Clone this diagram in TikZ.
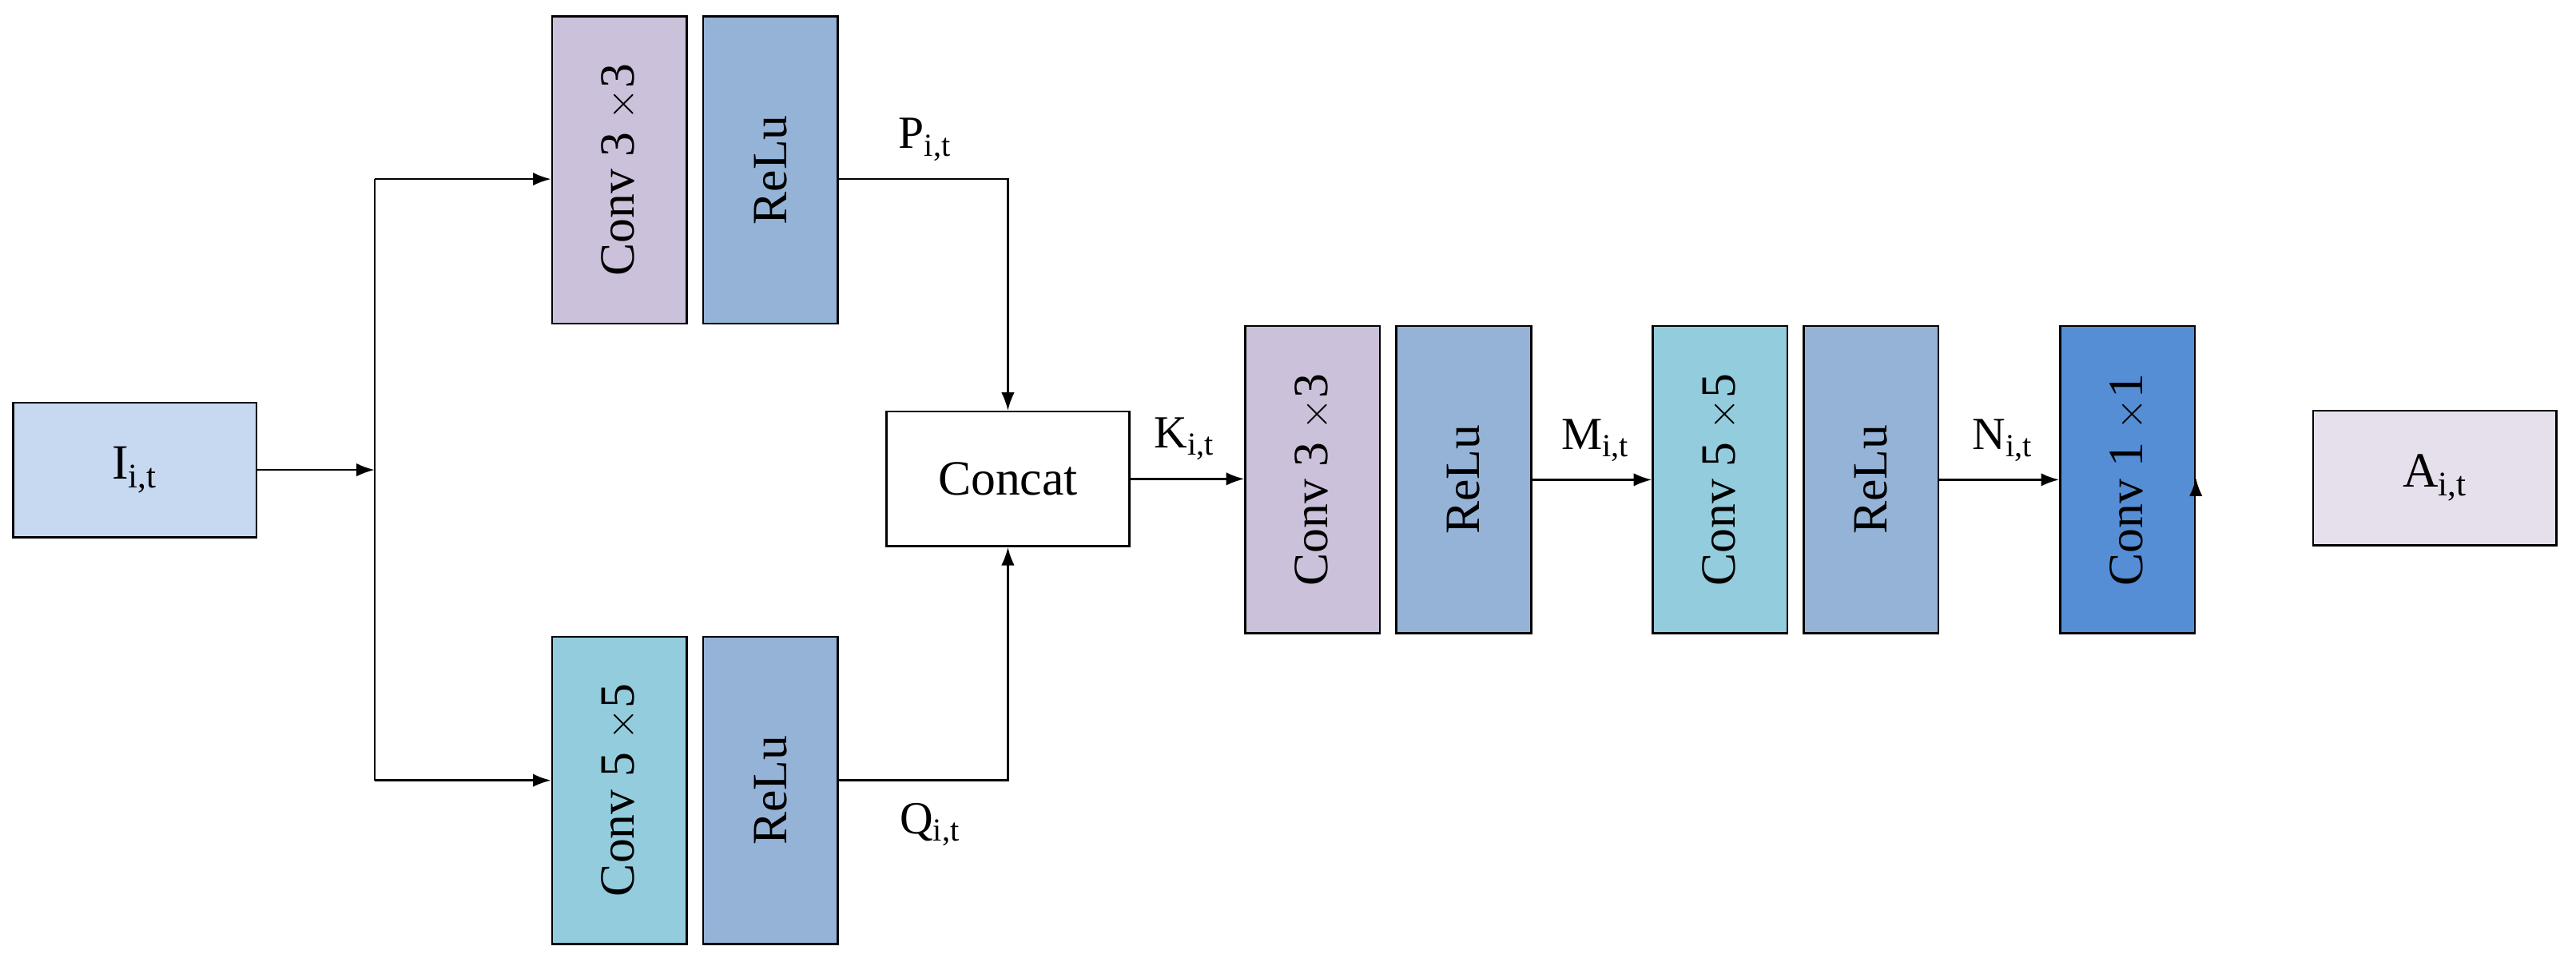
\documentclass[tikz,border=0pt]{standalone}
\usepackage{fontspec}
\setmainfont{Liberation Serif}
\usetikzlibrary{arrows.meta}
\definecolor{cI}{HTML}{C6D9F1}
\definecolor{cP}{HTML}{CCC1DA}
\definecolor{cR}{HTML}{95B3D7}
\definecolor{cC}{HTML}{93CDDD}
\definecolor{cD}{HTML}{558ED5}
\definecolor{cA}{HTML}{E6E0EC}
\begin{document}
\begin{tikzpicture}[x=1pt,y=-1pt,
  box/.style={draw=black,line width=1.2pt,inner sep=0pt,font=\fontsize{30}{36}\selectfont},
  tall/.style={box,minimum width=82pt,minimum height=187pt},
  wide/.style={box,minimum width=148pt,minimum height=82pt},
  arr/.style={-{Latex[length=11pt,width=8pt]},line width=1.2pt},
  lab/.style={font=\fontsize{28}{34}\selectfont,inner sep=0pt}]
\useasboundingbox (0,0) rectangle (1568,590);
\fill[white] (0,0) rectangle (1568,590);
\node[wide,fill=cI] (I) at (82,286) {I\textsubscript{i,t}};
\coordinate (b) at (228,286);
\node[tall,fill=cP] (c1) at (377,103.5) {\rotatebox{90}{Conv 3 $\times$3}};
\node[tall,fill=cR] (r1) at (469,103.5) {\rotatebox{90}{ReLu}};
\node[tall,fill=cC] (c2) at (377,481) {\rotatebox{90}{Conv 5 $\times$5}};
\node[tall,fill=cR] (r2) at (469,481) {\rotatebox{90}{ReLu}};
\node[wide,fill=white] (cat) at (613.5,291.5) {Concat};
\node[tall,fill=cP] (c3) at (799,292) {\rotatebox{90}{Conv 3 $\times$3}};
\node[tall,fill=cR] (r3) at (891,292) {\rotatebox{90}{ReLu}};
\node[tall,fill=cC] (c4) at (1047,292) {\rotatebox{90}{Conv 5 $\times$5}};
\node[tall,fill=cR] (r4) at (1139,292) {\rotatebox{90}{ReLu}};
\node[tall,fill=cD] (c5) at (1295,292) {\rotatebox{90}{Conv 1 $\times$1}};
\node[wide,fill=cA] (A) at (1482,291) {A\textsubscript{i,t}};
\draw[arr] (I.east) -- (b);
\draw[line width=1.2pt] (b) |- (228,109) coordinate (bt);
\draw[line width=1.2pt] (b) |- (228,475) coordinate (bb);
\draw[arr] (bt) -- (c1.west|-bt);
\draw[arr] (bb) -- (c2.west|-bb);
\draw[arr] (r1.east|-bt) -| (cat.north);
\draw[arr] (r2.east|-bb) -| (cat.south);
\draw[arr] (cat.east) -- (c3.west|-cat.east);
\draw[arr] (r3.east|-c4.west) -- (c4.west);
\draw[arr] (r4.east) -- (c5.west);
\draw[arr] (c5.east) -- (A.west-|c5.east) ;
\node[lab] (P) at (563,85) {P\textsubscript{i,t}};
\node[lab] (Q) at (566,502) {Q\textsubscript{i,t}};
\node[lab] (K) at (721,267) {K\textsubscript{i,t}};
\node[lab] (M) at (971,268) {M\textsubscript{i,t}};
\node[lab] (N) at (1219,268) {N\textsubscript{i,t}};
\end{tikzpicture}
\end{document}
